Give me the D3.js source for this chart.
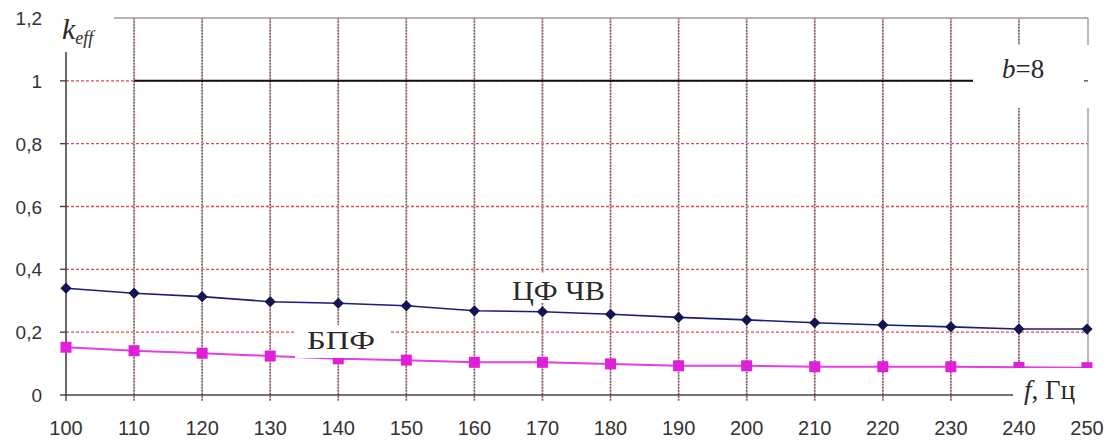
<!DOCTYPE html>
<html>
<head>
<meta charset="utf-8">
<script src="https://cdn.jsdelivr.net/npm/d3@7"></script>
<style>
  html, body { margin: 0; padding: 0; background: #fff; }
  svg { display: block; }
</style>
</head>
<body>
<svg id="chart" width="1114" height="441"></svg>
<script>
// Frequency grid, Hz
const freqs = [100, 110, 120, 130, 140, 150, 160, 170, 180, 190, 200, 210, 220, 230, 240, 250];
// Efficiency coefficient for the digital filter method (ЦФ ЧВ)
const cfValues = [0.340, 0.324, 0.313, 0.297, 0.292, 0.284, 0.268, 0.265, 0.257, 0.247, 0.239, 0.230, 0.223, 0.217, 0.210, 0.210];
// Efficiency coefficient for FFT (БПФ)
const fftValues = [0.152, 0.141, 0.133, 0.124, 0.115, 0.111, 0.104, 0.104, 0.099, 0.093, 0.093, 0.090, 0.090, 0.090, 0.088, 0.087];
// Reference level for b=8
const refFreqs = [110, 120, 130, 140, 150, 160, 170, 180, 190, 200, 210, 220, 230, 240, 250];
const refValues = [1, 1, 1, 1, 1, 1, 1, 1, 1, 1, 1, 1, 1, 1, 1];
// Axis tick labels
const xTicks = [100, 110, 120, 130, 140, 150, 160, 170, 180, 190, 200, 210, 220, 230, 240, 250];
const yTicks = [0, 0.2, 0.4, 0.6, 0.8, 1, 1.2];

const svg = d3.select("#chart");
const plotL = 66, plotR = 1088, plotT = 18, plotB = 395;

const x = d3.scaleLinear().domain([100, 250]).range([plotL, 1087]);
const y = d3.scaleLinear().domain([0, 1.2]).range([plotB, plotT]);
const fmt = v => String(v).replace(".", ",");

// Horizontal grid (red dashed)
svg.append("g").selectAll("line")
  .data(yTicks.filter(v => v > 0 && v < 1.2))
  .join("line")
  .attr("x1", plotL).attr("x2", plotR)
  .attr("y1", d => y(d)).attr("y2", d => y(d))
  .attr("stroke", "#e4474d").attr("stroke-width", 1.4)
  .attr("stroke-dasharray", "3,2");

// Vertical grid (gray dotted over pink), extending below the axis as ticks
const vg = svg.append("g");
const inner = xTicks.filter(v => v > 100 && v < 250);
vg.selectAll("line.under").data(inner).join("line")
  .attr("class", "under")
  .attr("x1", d => x(d)).attr("x2", d => x(d))
  .attr("y1", plotT).attr("y2", plotB + 6)
  .attr("stroke", "#e2aab2").attr("stroke-width", 1.6);
vg.selectAll("line.over").data(inner).join("line")
  .attr("class", "over")
  .attr("x1", d => x(d)).attr("x2", d => x(d))
  .attr("y1", plotT).attr("y2", plotB + 6)
  .attr("stroke", "#666").attr("stroke-width", 1.6)
  .attr("stroke-dasharray", "1.5,1.5");

// Frame: top border and right border (light gray)
svg.append("line").attr("x1", plotL).attr("x2", plotR).attr("y1", plotT).attr("y2", plotT)
  .attr("stroke", "#9a9a9a").attr("stroke-width", 1.4);
svg.append("line").attr("x1", plotR).attr("x2", plotR).attr("y1", plotT).attr("y2", plotB)
  .attr("stroke", "#9a9a9a").attr("stroke-width", 1.4);

// Axes
const axisColor = "#444";
svg.append("line").attr("x1", plotL).attr("x2", plotL).attr("y1", plotT).attr("y2", plotB)
  .attr("stroke", axisColor).attr("stroke-width", 1.6);
svg.append("line").attr("x1", plotL).attr("x2", plotR).attr("y1", plotB).attr("y2", plotB)
  .attr("stroke", axisColor).attr("stroke-width", 1.6);
svg.append("g").selectAll("line").data(yTicks).join("line")
  .attr("x1", plotL - 6).attr("x2", plotL)
  .attr("y1", d => y(d)).attr("y2", d => y(d))
  .attr("stroke", axisColor).attr("stroke-width", 1.4);
svg.append("g").selectAll("line").data([100, 250]).join("line")
  .attr("x1", d => x(d)).attr("x2", d => x(d))
  .attr("y1", plotB).attr("y2", plotB + 6)
  .attr("stroke", axisColor).attr("stroke-width", 1.4);

// Tick labels
svg.append("g").selectAll("text").data(xTicks).join("text")
  .attr("x", d => x(d)).attr("y", 435)
  .attr("text-anchor", "middle")
  .attr("font-family", "'Liberation Sans', Arial, sans-serif")
  .attr("font-size", 20).attr("fill", "#333")
  .text(d => d);
svg.append("g").selectAll("text").data(yTicks).join("text")
  .attr("x", 42).attr("y", d => y(d) + 7)
  .attr("text-anchor", "end")
  .attr("font-family", "'Liberation Sans', Arial, sans-serif")
  .attr("font-size", 19).attr("fill", "#333")
  .text(d => fmt(d));

// Series lines
const line = d3.line().x(d => x(d[0])).y(d => y(d[1]));

svg.append("path")
  .datum(refFreqs.map((f, i) => [f, refValues[i]]))
  .attr("d", line).attr("fill", "none")
  .attr("stroke", "#111").attr("stroke-width", 2);

svg.append("path")
  .datum(freqs.map((f, i) => [f, fftValues[i]]))
  .attr("d", line).attr("fill", "none")
  .attr("stroke", "#e63ce6").attr("stroke-width", 2);
svg.append("g").selectAll("rect")
  .data(freqs.map((f, i) => [f, fftValues[i]]))
  .join("rect")
  .attr("x", d => x(d[0]) - 5.5).attr("y", d => y(d[1]) - 5.5)
  .attr("width", 11).attr("height", 11)
  .attr("fill", "#e020d8");

svg.append("path")
  .datum(freqs.map((f, i) => [f, cfValues[i]]))
  .attr("d", line).attr("fill", "none")
  .attr("stroke", "#1c1c7a").attr("stroke-width", 1.6);
svg.append("g").selectAll("path.m")
  .data(freqs.map((f, i) => [f, cfValues[i]]))
  .join("path")
  .attr("class", "m")
  .attr("d", d3.symbol(d3.symbolDiamond2, 80))
  .attr("transform", d => `translate(${x(d[0])},${y(d[1])})`)
  .attr("fill", "#141450");

// Label boxes (white background behind the annotations)
const boxes = [
  [55, 6, 59, 46],     // k_eff
  [973, 45, 120, 63],  // b=8
  [1013, 368, 101, 46],// f, Гц
  [295, 325, 95, 33],  // БПФ
  [505, 273, 105, 30]  // ЦФ ЧВ
];
svg.append("g").selectAll("rect").data(boxes).join("rect")
  .attr("x", d => d[0]).attr("y", d => d[1])
  .attr("width", d => d[2]).attr("height", d => d[3])
  .attr("fill", "#fff");

// small tick on the right border at the b=8 level
svg.append("line").attr("x1", plotR - 4).attr("x2", plotR).attr("y1", y(1)).attr("y2", y(1))
  .attr("stroke", "#555").attr("stroke-width", 1.4);

const serif = "'Liberation Serif', 'Times New Roman', serif";
const ink = "#2a2a2a";

// Y-axis title: k_eff
const kt = svg.append("text").attr("x", 62).attr("y", 39)
  .attr("font-family", serif).attr("font-style", "italic").attr("fill", ink);
kt.append("tspan").attr("font-size", 30).text("k");
kt.append("tspan").attr("font-size", 18).attr("dy", 5).text("eff");

// Series annotations
svg.append("text").attr("x", 1002).attr("y", 78)
  .attr("font-family", serif).attr("font-size", 27).attr("fill", ink)
  .call(t => { t.append("tspan").attr("font-style", "italic").text("b"); t.append("tspan").text("=8"); });

svg.append("text").attr("x", 512).attr("y", 300)
  .attr("font-family", serif).attr("font-size", 28).attr("fill", ink)
  .attr("textLength", 93).attr("lengthAdjust", "spacingAndGlyphs")
  .text("ЦФ ЧВ");

svg.append("text").attr("x", 307).attr("y", 349)
  .attr("font-family", serif).attr("font-size", 25).attr("fill", ink)
  .attr("textLength", 68).attr("lengthAdjust", "spacingAndGlyphs")
  .text("БПФ");

// X-axis title: f, Гц
svg.append("text").attr("x", 1024).attr("y", 399)
  .attr("font-family", serif).attr("font-size", 27).attr("fill", ink)
  .call(t => { t.append("tspan").attr("font-style", "italic").text("f"); t.append("tspan").text(", Гц"); });
</script>
</body>
</html>
